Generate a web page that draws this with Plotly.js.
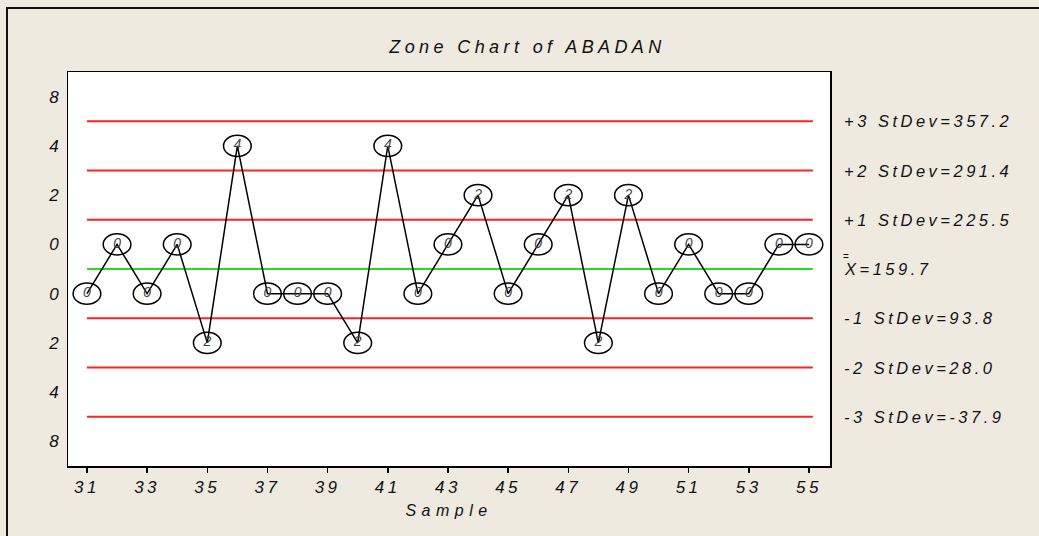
<!DOCTYPE html>
<html>
<head>
<meta charset="utf-8">
<script src="https://cdn.plot.ly/plotly-3.0.1.min.js"></script>
<style>
  html, body { margin: 0; padding: 0; background: #EEEAE0; }
  #wrap { position: relative; width: 1039px; height: 536px; overflow: hidden; }
  #chart { position: absolute; left: 0; top: 0; width: 1039px; height: 536px; }
  #frame { position: absolute; left: 6px; top: 7px; width: 1100px; height: 600px;
           border-left: 2px solid #111; border-top: 2px solid #111; pointer-events: none; }
  text { letter-spacing: 3.5px; }
  text.gtitle { letter-spacing: 4.4px; }
  text.xtitle { letter-spacing: 5.5px; }
  .textpoint text { letter-spacing: 0px; }
</style>
</head>
<body>
<div id="wrap">
  <div id="chart"></div>
  <div id="frame"></div>
</div>
<script>
// ---- data ----
const samples = [31,32,33,34,35,36,37,38,39,40,41,42,43,44,45,46,47,48,49,50,51,52,53,54,55];
// zone position of each point (center line = 0; +/-0.5 = zone 1, +/-1.5 = zone 2, +/-2.5 = zone 3)
const zonePos = [-0.5,0.5,-0.5,0.5,-1.5,2.5,-0.5,-0.5,-0.5,-1.5,2.5,-0.5,0.5,1.5,-0.5,0.5,1.5,-1.5,1.5,-0.5,0.5,-0.5,-0.5,0.5,0.5];
const scores  = ["0","0","0","0","2","4","0","0","0","2","4","0","0","2","0","0","2","2","2","0","0","0","0","0","0"];

const zoneLevels = [3, 2, 1, -1, -2, -3];
const zoneLabels = ["+3 StDev=357.2", "+2 StDev=291.4", "+1 StDev=225.5", "-1 StDev=93.8", "-2 StDev=28.0", "-3 StDev=-37.9"];
const centerLevel = 0;
const centerLabel = "X=159.7";

const yTickVals = [3.5, 2.5, 1.5, 0.5, -0.5, -1.5, -2.5, -3.5];
const yTickText = ["8", "4", "2", "0", "0", "2", "4", "8"];
const xTickVals = [31,33,35,37,39,41,43,45,47,49,51,53,55];

// ---- traces ----
const FONT = 'Liberation Sans, Arial, sans-serif';
const xStart = samples[0], xEnd = samples[samples.length - 1];
const traces = [];
zoneLevels.forEach(function (lv) {
  traces.push({ x: [xStart, xEnd + 0.13], y: [lv, lv], mode: 'lines',
    line: { color: '#FF2222', width: 1.8 }, hoverinfo: 'skip', showlegend: false });
});
traces.push({ x: [xStart, xEnd + 0.13], y: [centerLevel, centerLevel], mode: 'lines',
  line: { color: '#22DD22', width: 1.8 }, hoverinfo: 'skip', showlegend: false });
traces.push({ x: samples, y: zonePos, mode: 'lines+text', text: scores,
  textposition: 'middle center',
  textfont: { family: FONT, size: 14, color: '#444', style: 'italic' },
  line: { color: '#000', width: 1.5 }, showlegend: false });

// ellipses around points
const shapes = samples.map(function (s, i) {
  return { type: 'circle', xref: 'x', yref: 'y',
    x0: s - 0.46, x1: s + 0.46, y0: zonePos[i] - 0.215, y1: zonePos[i] + 0.215,
    line: { color: '#000', width: 1.5 }, fillcolor: 'rgba(0,0,0,0)' };
});

const lblFont = { family: FONT, size: 16.5, color: '#111', style: 'italic' };
const annotations = zoneLevels.map(function (lv, i) {
  return { xref: 'paper', yref: 'y', x: 1, y: lv, xanchor: 'left', yanchor: 'middle',
    xshift: 12, text: zoneLabels[i], showarrow: false, font: lblFont };
});
annotations.push({ xref: 'paper', yref: 'y', x: 1, y: centerLevel, xanchor: 'left', yanchor: 'middle',
  xshift: 12, yshift: 0, text: centerLabel, showarrow: false, font: lblFont });
annotations.push({ xref: 'paper', yref: 'y', x: 1, y: centerLevel, xanchor: 'left', yanchor: 'middle',
  xshift: 11, yshift: 13, text: '=', showarrow: false,
  font: { family: FONT, size: 10, color: '#111' } });

const layout = {
  width: 1039, height: 536,
  paper_bgcolor: 'rgba(0,0,0,0)', plot_bgcolor: '#FFFFFF',
  margin: { l: 68, r: 209, t: 72, b: 70, pad: 0 },
  title: { text: 'Zone Chart of ABADAN', x: 0.603, xref: 'paper', xanchor: 'center', y: 0.912, yanchor: 'middle',
    font: { family: FONT, size: 18, color: '#111', style: 'italic' } },
  xaxis: { range: [30.37, 55.7], tickvals: xTickVals, ticks: 'outside', ticklen: 5, tickwidth: 1.5,
    tickcolor: '#000', showgrid: false, zeroline: false, showline: true, linecolor: '#000',
    linewidth: 1.5, mirror: true,
    tickfont: { family: FONT, size: 17, color: '#111', style: 'italic' },
    title: { text: 'Sample', standoff: 9,
      font: { family: FONT, size: 16, color: '#111', style: 'italic' } } },
  yaxis: { range: [-4, 4], tickvals: yTickVals, ticktext: yTickText, ticks: '', showgrid: false,
    zeroline: false, showline: true, linecolor: '#000', linewidth: 1.5, mirror: true,
    ticklabelstandoff: 1,
    tickfont: { family: FONT, size: 17, color: '#111', style: 'italic' } },
  shapes: shapes,
  annotations: annotations,
  showlegend: false
};

Plotly.newPlot('chart', traces, layout, { displayModeBar: false, staticPlot: true });
</script>
</body>
</html>
